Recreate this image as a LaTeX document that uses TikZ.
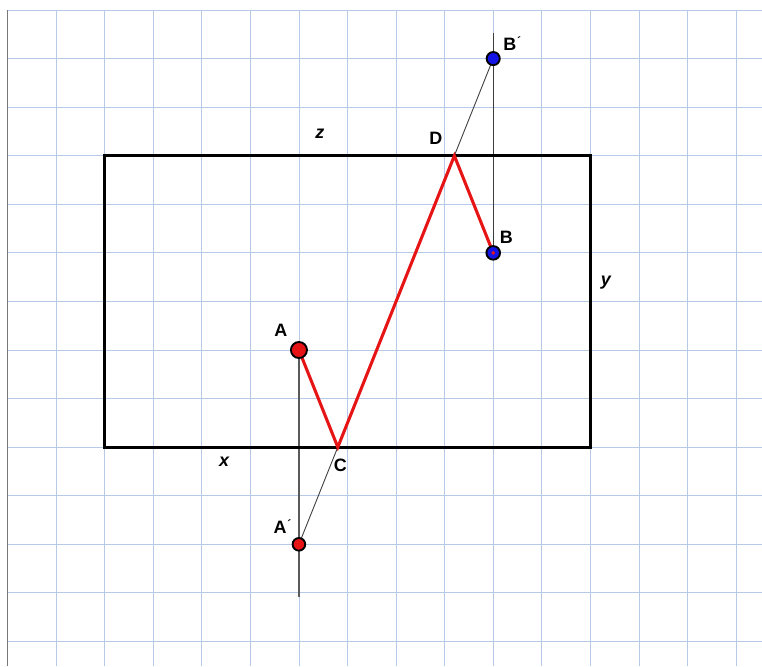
\documentclass[tikz,border=0pt]{standalone}
\usepackage{fontspec}
\setmainfont{Liberation Sans}
\definecolor{gridblue}{RGB}{182,202,232}
\definecolor{edgegray}{RGB}{120,120,120}
\definecolor{thingray}{RGB}{60,60,60}
\definecolor{vgray}{RGB}{90,90,90}
\definecolor{pathred}{RGB}{230,20,20}
\definecolor{dotblue}{RGB}{20,20,230}
\begin{document}
\begin{tikzpicture}[x=1cm,y=1cm,
  gridline/.style={draw=gridblue, line width=0.5pt},
  edgeline/.style={draw=edgegray, line width=0.8pt},
  thinline/.style={draw=thingray, line width=0.5pt},
  vline/.style={draw=vgray, line width=0.9pt},
  box/.style={draw=black, line width=1.8pt},
  redpath/.style={draw=pathred, line width=1.8pt, line join=miter},
  reddot/.style={circle, fill=pathred, draw=black, line width=1.1pt, inner sep=0pt},
  bluedot/.style={circle, fill=dotblue, draw=black, line width=1.1pt, inner sep=0pt},
  lbl/.style={font=\fontsize{10.5}{12}\selectfont\bfseries, inner sep=0pt},
  ilbl/.style={font=\fontsize{10.5}{12}\selectfont\bfseries\itshape, inner sep=0pt}
]
\useasboundingbox (-0.1544,0.2059) rectangle (15.5335,-13.5061);
\fill[white] (-0.1544,0.2059) rectangle (15.5335,-13.5061);
% grid
\foreach \i in {1,...,15} \draw[gridline] (\i,0) -- (\i,-13.51);
\foreach \j in {0,...,13} \draw[gridline] (0,-\j) -- (15.54,-\j);
\draw[edgeline] (0,0) -- (0,-13.51);
% coordinates
\coordinate (C) at (6.8,-9);
\coordinate (D) at (9.2,-3);
\coordinate (Abot) at (6,-12.08);
\coordinate (Btop) at (10,-0.47);
\coordinate (A) at (6,-7);
\coordinate (Ap) at (6,-11);
\coordinate (B) at (10,-5);
\coordinate (Bp) at (10,-1);
% thin construction lines
\draw[vline] (A) -- (Abot);
\draw[thinline] (Btop) -- (B);
\draw[thinline] (Ap) -- (Bp);
% rectangle
\draw[box] (2,-3) rectangle (12,-9);
% red path
\draw[redpath] (A) -- (C) -- (D) -- (B);
% dots
\node[reddot, minimum size=0.33cm] (dA) at (A) {};
\node[reddot, minimum size=0.26cm] (dAp) at (Ap) {};
\node[bluedot, minimum size=0.28cm] (dB) at (B) {};
\fill[pathred] (B) circle (0.04);
\node[bluedot, minimum size=0.27cm] (dBp) at (Bp) {};
% labels
\node[lbl] (lA) at (5.63,-6.59) {A};
\node[lbl] (lAp) at (5.66,-10.64) {A\kern0.5pt\raisebox{0.55ex}{\fontsize{7}{7}\selectfont\textasciiacute}};
\node[lbl] (lB) at (10.27,-4.67) {B};
\node[lbl] (lBp) at (10.39,-0.70) {B\kern0.5pt\raisebox{0.55ex}{\fontsize{7}{7}\selectfont\textasciiacute}};
\node[lbl] (lC) at (6.85,-9.37) {C};
\node[lbl] (lD) at (8.82,-2.64) {D};
\node[ilbl] (lx) at (4.46,-9.31) {x};
\node[ilbl] (ly) at (12.32,-5.62) {y};
\node[ilbl] (lz) at (6.43,-2.55) {z};
\end{tikzpicture}
\end{document}
